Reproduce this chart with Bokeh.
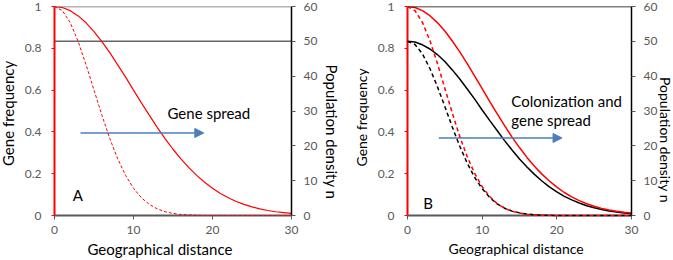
import math
from bokeh.plotting import figure
from bokeh.layouts import row
from bokeh.models import (Range1d, LinearAxis, FixedTicker, Label, Span, Arrow, NormalHead, Title)
from bokeh.embed import file_html
from bokeh.resources import INLINE

# ---------------- data ----------------
distance = list(range(31))

# Panel A: gene frequency (left axis)
gene_a_late = [1.000, 0.995, 0.980, 0.955, 0.922, 0.880, 0.832, 0.779, 0.721, 0.662, 0.600,
               0.539, 0.480, 0.422, 0.368, 0.317, 0.271, 0.229, 0.192, 0.159, 0.130,
               0.105, 0.085, 0.067, 0.053, 0.041, 0.032, 0.024, 0.018, 0.014, 0.010]
gene_a_early = [1.000, 0.980, 0.922, 0.832, 0.721, 0.600, 0.480, 0.368, 0.271, 0.192, 0.130,
                0.085, 0.053, 0.032, 0.018, 0.010, 0.005, 0.003, 0.001, 0.0, 0.0,
                0.0, 0.0, 0.0, 0.0, 0.0, 0.0, 0.0, 0.0, 0.0, 0.0]
# Panel A: population density (right axis), constant
density_a_x = [0, 30]
density_a = [50, 50]

# Panel B
gene_b_late = [1.000, 0.995, 0.980, 0.956, 0.923, 0.883, 0.835, 0.783, 0.727, 0.667, 0.607,
               0.546, 0.487, 0.430, 0.375, 0.325, 0.278, 0.236, 0.198, 0.165, 0.136,
               0.110, 0.089, 0.071, 0.056, 0.044, 0.034, 0.026, 0.020, 0.015, 0.012]
gene_b_early = [1.000, 0.980, 0.924, 0.837, 0.728, 0.609, 0.490, 0.378, 0.281, 0.201, 0.138,
                0.091, 0.057, 0.035, 0.020, 0.012, 0.006, 0.003, 0.002, 0.001, 0.0,
                0.0, 0.0, 0.0, 0.0, 0.0, 0.0, 0.0, 0.0, 0.0, 0.0]
density_b_late = [50.0, 49.8, 49.0, 47.8, 46.2, 44.2, 41.8, 39.2, 36.3, 33.4, 30.3,
                  27.3, 24.4, 21.5, 18.8, 16.2, 13.9, 11.8, 9.9, 8.2, 6.8,
                  5.5, 4.5, 3.6, 2.8, 2.2, 1.7, 1.3, 1.0, 0.75, 0.6]
density_b_early = [50.0, 49.1, 46.4, 42.2, 37.0, 31.3, 25.4, 19.9, 15.0, 10.9, 7.7,
                   5.2, 3.35, 2.1, 1.25, 0.75, 0.4, 0.2, 0.1, 0.05, 0.0,
                   0.0, 0.0, 0.0, 0.0, 0.0, 0.0, 0.0, 0.0, 0.0, 0.0]

x_ticks = [0, 10, 20, 30]
gene_ticks = [0, 0.2, 0.4, 0.6, 0.8, 1]
gene_tick_labels = ["0", "0.2", "0.4", "0.6", "0.8", "1"]
density_ticks = [0, 10, 20, 30, 40, 50, 60]

x_title = "Geographical distance"
left_title = "Gene frequency"
right_title = "Population density n"

FONT = "Lato"
GRAY = "#595959"
RED = "#FF0000"
BLUE = "#4A7EBB"


def style_axis(ax, line_color, line_width, tick_color, tick_out, standoff, fs, spacer=None):
    ax.axis_line_color = line_color
    ax.axis_line_width = line_width
    ax.major_tick_line_color = tick_color
    ax.major_tick_out = tick_out
    ax.major_tick_in = 0
    ax.minor_tick_line_color = None
    ax.major_label_standoff = standoff
    ax.major_label_text_font = FONT
    ax.major_label_text_font_size = fs
    ax.major_label_text_color = GRAY
    if spacer is not None:
        # invisible spacer label, only widens the axis panel
        ax.axis_label = " "
        ax.axis_label_text_font_size = "1px"
        ax.axis_label_text_color = "white"
        ax.axis_label_standoff = spacer


def title(text, align_offset, standoff, fs):
    return Title(text=text, align="left", offset=align_offset, standoff=standoff,
                 text_font=FONT, text_font_size=fs, text_font_style="normal",
                 text_color="black")


def make_panel(width, left, frame_w, top_color, fs_text, fs_tick, offsets, standoffs, spacers):
    p = figure(width=width, height=260, frame_width=frame_w, frame_height=209,
               min_border_left=left, min_border_right=width - left - frame_w,
               min_border_top=6, min_border_bottom=45,
               x_range=Range1d(0, 30), y_range=Range1d(0, 1),
               output_backend="svg", toolbar_location=None, y_axis_location=None)
    p.outline_line_color = None
    p.xgrid.visible = False
    p.ygrid.visible = False
    p.extra_y_ranges = {"n": Range1d(0, 60)}

    xa = p.xaxis[0]
    xa.ticker = FixedTicker(ticks=x_ticks)
    style_axis(xa, GRAY, 2, GRAY, 4, 6, fs_tick)

    la = LinearAxis(ticker=FixedTicker(ticks=gene_ticks))
    la.major_label_overrides = {t: s for t, s in zip(gene_ticks, gene_tick_labels)}
    style_axis(la, RED, 2, RED, 3, 10, fs_tick, spacers[0])
    p.add_layout(la, "left")

    ra = LinearAxis(y_range_name="n", ticker=FixedTicker(ticks=density_ticks))
    style_axis(ra, "black", 1.5, GRAY, 4, 8, fs_tick, spacers[1])
    p.add_layout(ra, "right")

    p.add_layout(title(x_title, offsets[0], standoffs[0], fs_text), "below")
    p.add_layout(title(left_title, offsets[1], standoffs[1], fs_text), "left")
    p.add_layout(title(right_title, offsets[2], standoffs[2], fs_text), "right")

    p.add_layout(Span(location=1, dimension="width", line_color=top_color, line_width=1.5))
    return p


def add_notes(p, lines, pos, letter, letter_pos, arrow, fs):
    for i, line in enumerate(lines):
        p.add_layout(Label(x=pos[0], y=pos[1] - i * 0.091, text=line,
                           text_font=FONT, text_font_size=fs, text_color="black",
                           text_baseline="alphabetic"))
    p.add_layout(Label(x=letter_pos[0], y=letter_pos[1], text=letter, text_font=FONT,
                       text_font_size=fs, text_color="black", text_baseline="alphabetic"))
    p.add_layout(Arrow(end=NormalHead(size=9, fill_color=BLUE, line_color=BLUE, line_width=1),
                       x_start=arrow[0], x_end=arrow[1], y_start=arrow[2], y_end=arrow[2],
                       line_color=BLUE, line_width=1.5))


pa = make_panel(345, 54, 237, "#666666", "15px", "12px", (33, 49.5, 58), (2, -9, 4), (5, None))
add_notes(pa, ["Gene spread"], (14.3, 0.491), "A", (2.3, 0.098), (3.3, 18.9, 0.395), "15px")
pa.line(density_a_x, density_a, y_range_name="n", line_color="#666666", line_width=1.5)
pa.line(distance, gene_a_early, line_color=RED, line_width=1, line_dash="3 2", level="overlay")
pa.line(distance, gene_a_late, line_color=RED, line_width=1.2)

pb = make_panel(328, 62, 224, "black", "14px", "12px", (41, 49, 70.5), (2, 8.5, -6.5), (None, None))
add_notes(pb, ["Colonization and", "gene spread"], (13.9, 0.547), "B", (2.1, 0.061),
          (4.2, 20.7, 0.371), "15px")
pb.line(distance, density_b_early, y_range_name="n", line_color="black", line_width=1.5,
        line_dash="4 3", level="overlay")
pb.line(distance, gene_b_early, line_color=RED, line_width=1.5, line_dash="4 3", level="overlay")
pb.line(distance, density_b_late, y_range_name="n", line_color="black", line_width=1.5)
pb.line(distance, gene_b_late, line_color=RED, line_width=1.5)

layout = row(pa, pb, spacing=0)
open("out.html", "w").write(file_html(layout, INLINE))
